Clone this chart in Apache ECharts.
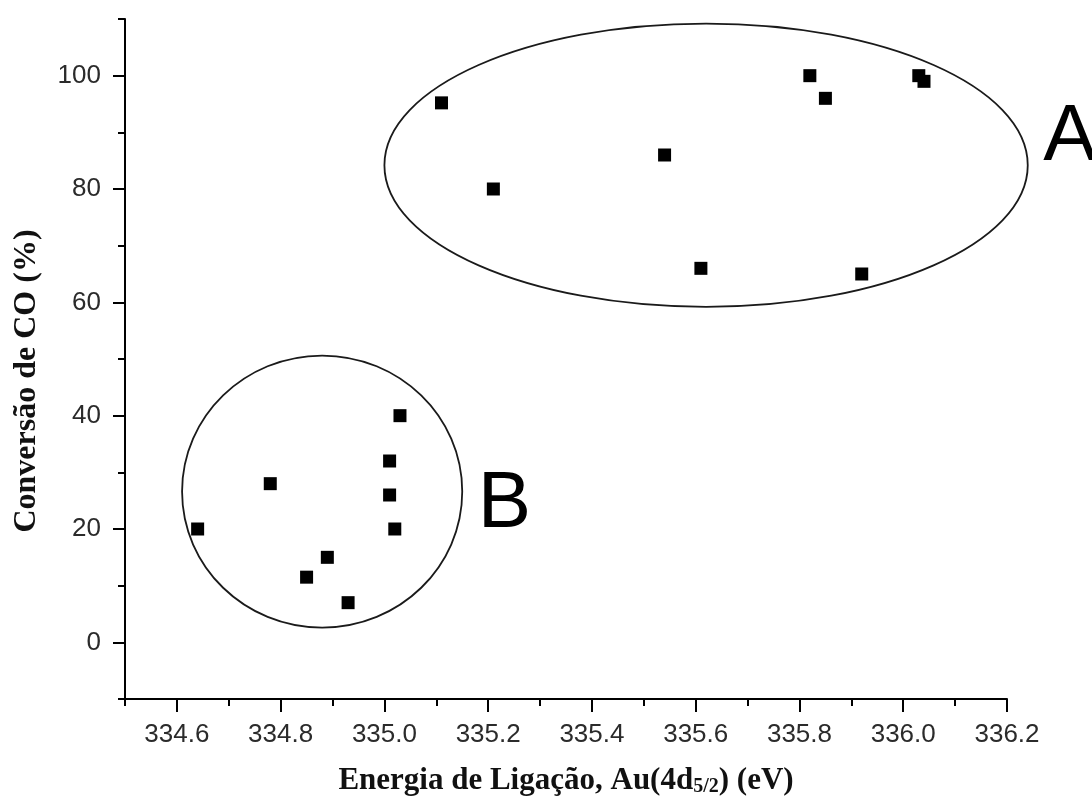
<!DOCTYPE html>
<html>
<head>
<meta charset="utf-8">
<script src="https://cdn.jsdelivr.net/npm/echarts@6/dist/echarts.min.js"></script>
<style>
html,body{margin:0;padding:0;background:#fff;overflow:hidden;width:1092px;height:802px;}
#chart{width:1092px;height:802px;position:absolute;left:0;top:0;}
</style>
</head>
<body>
<div id="chart"></div>
<script>
// ---- data ----
const groupAX = [335.11, 335.21, 335.54, 335.61, 335.82, 335.85, 336.03, 336.04, 335.92];
const groupAY = [95.2, 80, 86, 66, 100, 96, 100, 99, 65];
const groupBX = [335.03, 335.01, 335.01, 335.02, 334.78, 334.64, 334.89, 334.85, 334.93];
const groupBY = [40, 32, 26, 20, 28, 20, 15, 11.5, 7];

// group outlines (data units): centre x, centre y, radius x, radius y
const ellipseCX = [335.62, 334.88];
const ellipseCY = [84.2, 26.6];
const ellipseRX = [0.62, 0.27];
const ellipseRY = [25, 24];
const groupNames = ['A', 'B'];
const groupNameX = [336.27, 335.18];
const groupNameY = [89, 24.3];

// axes
const xMin = 334.5, xMax = 336.2;
const yMin = -10, yMax = 110;
const xLabelValues = [334.6, 334.8, 335.0, 335.2, 335.4, 335.6, 335.8, 336.0, 336.2];
const yLabelValues = [0, 20, 40, 60, 80, 100];

const xTitle = '{a|Energia de Ligação, Au(4d}{s|5/2}{a|) (eV)}';
const yTitle = 'Conversão de CO (%)';

// ---- chart ----
const chart = echarts.init(document.getElementById('chart'), null, {renderer: 'canvas', width: 1092, height: 802});

const pointsA = groupAX.map((x, i) => [x, groupAY[i]]);
const pointsB = groupBX.map((x, i) => [x, groupBY[i]]);
const ellipseData = ellipseCX.map((cx, i) => [cx, ellipseCY[i], ellipseRX[i], ellipseRY[i], groupNameX[i], groupNameY[i]]);

const isMajorX = v => xLabelValues.some(m => Math.abs(m - v) < 1e-6);
const isMajorY = v => yLabelValues.some(m => Math.abs(m - v) < 1e-6);

const labelFont = {fontFamily: '"Liberation Sans", Arial, sans-serif', fontSize: 26, color: '#2b2b2b'};
const titleFontFamily = '"Liberation Serif", "Times New Roman", serif';

const option = {
  backgroundColor: '#ffffff',
  animation: false,
  grid: {left: 125, right: 85, top: 19, bottom: 102, containLabel: false},
  xAxis: [{
    type: 'value', min: xMin, max: xMax, interval: 0.1,
    position: 'bottom',
    axisLine: {show: true, onZero: false, lineStyle: {color: '#000', width: 2}},
    axisTick: {show: true, inside: false, length: 7, lineStyle: {color: '#000', width: 2}},
    axisLabel: Object.assign({
      show: true, margin: 23,
      formatter: v => isMajorX(v) ? v.toFixed(1) : ''
    }, labelFont),
    splitLine: {show: false},
    name: xTitle, nameLocation: 'middle', nameGap: 66,
    nameTextStyle: {
      rich: {
        a: {fontFamily: titleFontFamily, fontWeight: 'bold', fontSize: 31, color: '#111'},
        s: {fontFamily: titleFontFamily, fontWeight: 'bold', fontSize: 20, color: '#111', padding: [12, 0, 0, 0]}
      }
    }
  }, {
    type: 'value', min: xMin, max: xMax,
    position: 'bottom',
    axisLine: {show: false, onZero: false},
    axisTick: {show: true, length: 13, customValues: xLabelValues, lineStyle: {color: '#000', width: 2}},
    axisLabel: {show: false},
    splitLine: {show: false}
  }],
  yAxis: [{
    type: 'value', min: yMin, max: yMax, interval: 10,
    position: 'left',
    axisLine: {show: true, onZero: false, lineStyle: {color: '#000', width: 2}},
    axisTick: {show: true, length: 7, lineStyle: {color: '#000', width: 2}},
    axisLabel: Object.assign({
      show: true, margin: 24,
      formatter: v => isMajorY(v) ? String(v) : ''
    }, labelFont),
    splitLine: {show: false},
    name: yTitle, nameLocation: 'middle', nameGap: 82, nameRotate: 90,
    nameTextStyle: {fontFamily: titleFontFamily, fontWeight: 'bold', fontSize: 32, color: '#111', padding: [0, 44, 0, 0]}
  }, {
    type: 'value', min: yMin, max: yMax,
    position: 'left',
    axisLine: {show: false, onZero: false},
    axisTick: {show: true, length: 12, customValues: yLabelValues, lineStyle: {color: '#000', width: 2}},
    axisLabel: {show: false},
    splitLine: {show: false}
  }],
  series: [{
    type: 'custom',
    clip: false,
    silent: true,
    z: 1,
    data: ellipseData,
    renderItem: function (params, api) {
      const c = api.coord([api.value(0), api.value(1)]);
      const s = api.size([api.value(2), api.value(3)]);
      const t = api.coord([api.value(4), api.value(5)]);
      return {
        type: 'group',
        children: [{
          type: 'ellipse',
          shape: {cx: c[0], cy: c[1], rx: s[0], ry: s[1]},
          style: {fill: 'none', stroke: '#1a1a1a', lineWidth: 1.8}
        }, {
          type: 'text',
          x: t[0], y: t[1],
          style: {
            text: groupNames[params.dataIndex],
            font: '80px "Liberation Sans", Arial, sans-serif',
            fill: '#000', align: 'left', verticalAlign: 'middle'
          }
        }]
      };
    }
  }, {
    type: 'scatter', name: 'A',
    symbol: 'rect', symbolSize: 13,
    itemStyle: {color: '#000', opacity: 1},
    data: pointsA, z: 3
  }, {
    type: 'scatter', name: 'B',
    symbol: 'rect', symbolSize: 13,
    itemStyle: {color: '#000', opacity: 1},
    data: pointsB, z: 3
  }]
};
chart.setOption(option);
</script>
</body>
</html>
